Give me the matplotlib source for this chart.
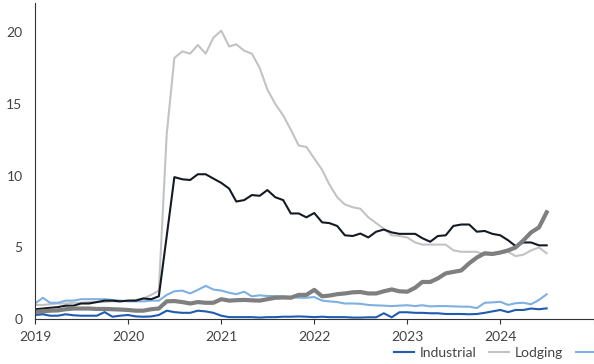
import matplotlib
matplotlib.use("Agg")
import matplotlib.pyplot as plt
import matplotlib.dates as mdates
import pandas as pd

# monthly delinquency rate (%) by property type, Jan 2019 - Jul 2024
months = pd.date_range("2019-01-01", "2024-07-01", freq="MS")

industrial = [0.30, 0.35, 0.25, 0.25, 0.35, 0.28, 0.25, 0.25, 0.25, 0.50, 0.18, 0.25,
              0.30, 0.20, 0.18, 0.20, 0.30, 0.60, 0.50, 0.45, 0.45, 0.60, 0.55, 0.45,
              0.25, 0.15, 0.15, 0.15, 0.15, 0.12, 0.15, 0.15, 0.18, 0.18, 0.20, 0.18,
              0.15, 0.18, 0.15, 0.15, 0.15, 0.12, 0.12, 0.14, 0.14, 0.42, 0.14, 0.49,
              0.49, 0.45, 0.45, 0.42, 0.42, 0.37, 0.37, 0.37, 0.35, 0.37, 0.45, 0.55,
              0.65, 0.50, 0.65, 0.65, 0.75, 0.70, 0.76]
lodging = [1.00, 1.00, 1.05, 1.10, 1.10, 1.15, 1.15, 1.20, 1.20, 1.20, 1.25, 1.25,
           1.30, 1.35, 1.45, 1.70, 2.00, 12.9, 18.2, 18.65, 18.5, 19.1, 18.5, 19.6,
           20.1, 19.0, 19.15, 18.7, 18.5, 17.5, 16.0, 15.0, 14.2, 13.2, 12.1, 12.0,
           11.2, 10.4, 9.4, 8.5, 8.0, 7.8, 7.7, 7.1, 6.7, 6.3, 5.85, 5.8,
           5.7, 5.35, 5.2, 5.2, 5.2, 5.2, 4.8, 4.7, 4.7, 4.7, 4.5, 4.5,
           4.6, 4.7, 4.4, 4.5, 4.8, 5.0, 4.6]
multifamily = [1.10, 1.50, 1.15, 1.15, 1.30, 1.30, 1.40, 1.40, 1.40, 1.40, 1.35, 1.30,
               1.25, 1.25, 1.25, 1.30, 1.30, 1.70, 1.95, 2.00, 1.80, 2.05, 2.33, 2.07,
               2.00, 1.85, 1.75, 1.92, 1.60, 1.67, 1.62, 1.62, 1.60, 1.57, 1.50, 1.50,
               1.55, 1.30, 1.25, 1.20, 1.10, 1.10, 1.08, 1.00, 0.97, 0.95, 0.92, 0.95,
               0.98, 0.92, 0.98, 0.90, 0.92, 0.92, 0.90, 0.88, 0.88, 0.78, 1.15, 1.18,
               1.22, 1.00, 1.12, 1.15, 1.05, 1.35, 1.74]
office = [0.53, 0.55, 0.60, 0.62, 0.70, 0.75, 0.75, 0.75, 0.72, 0.72, 0.70, 0.68,
          0.65, 0.60, 0.60, 0.70, 0.75, 1.25, 1.27, 1.20, 1.10, 1.20, 1.15, 1.15,
          1.40, 1.30, 1.33, 1.35, 1.32, 1.30, 1.40, 1.50, 1.52, 1.50, 1.70, 1.70,
          2.05, 1.60, 1.65, 1.75, 1.80, 1.88, 1.90, 1.80, 1.80, 1.95, 2.08, 1.95,
          1.92, 2.20, 2.60, 2.60, 2.85, 3.20, 3.30, 3.40, 3.90, 4.30, 4.60, 4.55,
          4.65, 4.80, 5.00, 5.50, 6.05, 6.40, 7.45]
retail = [0.70, 0.75, 0.80, 0.85, 0.95, 0.95, 1.10, 1.10, 1.20, 1.30, 1.30, 1.25,
          1.30, 1.30, 1.45, 1.40, 1.60, 5.80, 9.90, 9.75, 9.70, 10.1, 10.1, 9.80,
          9.50, 9.10, 8.20, 8.30, 8.65, 8.60, 9.00, 8.50, 8.30, 7.37, 7.37, 7.10,
          7.40, 6.75, 6.70, 6.50, 5.85, 5.80, 5.97, 5.70, 6.10, 6.25, 6.05, 5.95,
          5.95, 5.95, 5.65, 5.40, 5.80, 5.85, 6.50, 6.60, 6.60, 6.10, 6.15, 5.95,
          5.85, 5.50, 5.10, 5.35, 5.35, 5.15, 5.15]

plt.rcParams.update({"font.family": ["Lato", "DejaVu Sans"], "font.size": 10})

fig = plt.figure(figsize=(5.94, 3.64), dpi=100)
ax = fig.add_axes([0.0589, 0.1228, 0.9403, 0.868])

ax.plot(months, lodging, color="#c3c3c3", lw=1.5, label="Lodging")
ax.plot(months, multifamily, color="#7eb0e2", lw=1.5, label="Multifamily")
ax.plot(months, retail, color="#141a22", lw=1.5, label="Retail")
ax.plot(months, office, color="#7f7f7f", lw=3.0, label="Office")
ax.plot(months, industrial, color="#1f5cb0", lw=1.5, label="Industrial")

ax.set_xlim(pd.Timestamp("2019-01-01"), pd.Timestamp("2025-01-01"))
ax.set_ylim(0, 22)
ax.set_yticks([0, 5, 10, 15, 20])
ax.xaxis.set_major_locator(mdates.YearLocator())
ax.xaxis.set_major_formatter(mdates.DateFormatter("%Y"))
ax.set_xticks(ax.get_xticks())
ax.set_xticklabels(["2019", "2020", "2021", "2022", "2023", "2024", ""])

for s in ("top", "right"):
    ax.spines[s].set_visible(False)
for s in ("left", "bottom"):
    ax.spines[s].set_color("#333333")
    ax.spines[s].set_linewidth(0.8)
ax.tick_params(axis="y", length=0, pad=9, labelcolor="#444444")
ax.tick_params(axis="x", length=3.5, width=0.8, color="#333333", pad=5, labelcolor="#444444")

h, l = ax.get_legend_handles_labels()
order = ["Industrial", "Lodging", "Multifamily", "Office", "Retail"]
hl = dict(zip(l, h))
fig.legend([hl[k] for k in order], order, loc="center left",
           bbox_to_anchor=(0.643, 1 - 353 / 364), ncol=5, frameon=False,
           handlelength=1.4, handletextpad=0.45, columnspacing=0.9,
           labelcolor="#444444")

fig.savefig("out.png", dpi=100)
